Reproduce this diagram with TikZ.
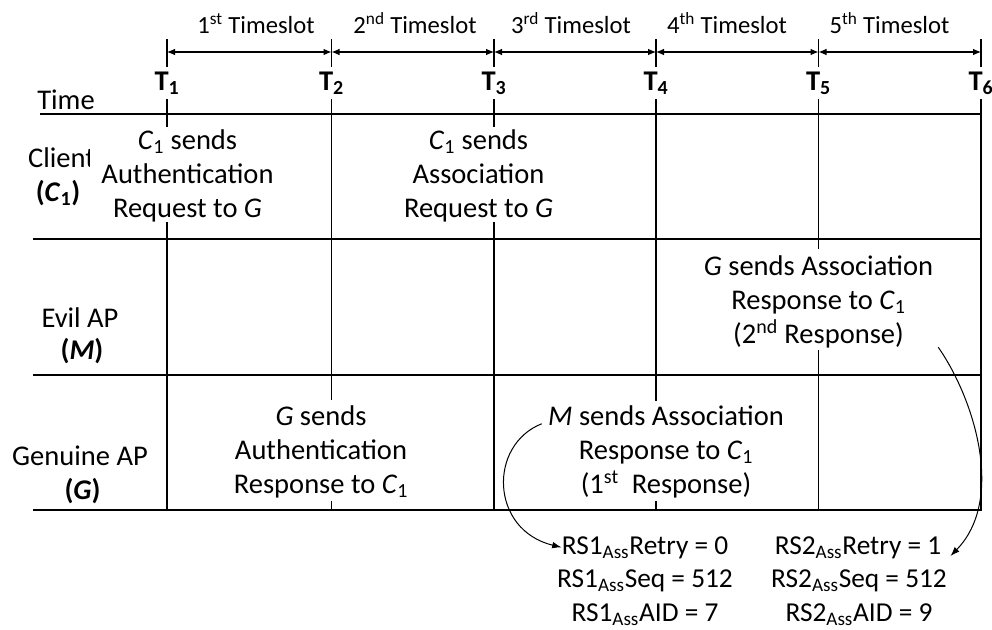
\documentclass[tikz,border=0pt]{standalone}
\usepackage{fontspec}
\setmainfont{Carlito}
\usetikzlibrary{arrows.meta,calc}

\begin{document}
\begin{tikzpicture}[x=0.75pt,y=-0.75pt,
  grid/.style={line width=1.5pt},
  tline/.style={line width=0.9pt},
  span/.style={line width=0.8pt,{Latex[length=6pt,width=5pt]}-{Latex[length=6pt,width=5pt]}},
  tlabel/.style={fill=white,inner xsep=1pt,inner ysep=0pt,minimum height=24pt,
    font=\fontsize{21.4}{25.5}\selectfont\bfseries},
  slot/.style={anchor=base,inner sep=0pt,font=\fontsize{18.5}{22}\selectfont},
  wbox/.style={fill=white,inner sep=0pt},
  msg/.style={align=center,inner sep=0pt,font=\fontsize{21.4}{25.5}\selectfont},
  rowlab/.style={anchor=base,inner sep=0pt,font=\fontsize{21.4}{25.5}\selectfont},
  res/.style={anchor=base,inner sep=0pt,font=\fontsize{20.5}{25}\selectfont},
  curve/.style={line width=0.75pt,-{Latex[length=7pt,width=5pt]}}
]
\useasboundingbox (0,0) rectangle (992,629);

% time instants
\foreach \i/\x in {1/167,2/331.5,3/494,4/656,5/818.5,6/981}{
  \coordinate (top\i) at (\x,39);
  \coordinate (arr\i) at (\x,52);
  \coordinate (bot\i) at (\x,510);
}

% row separators
\draw[grid] (40,114) -- (982,114);
\draw[grid] (33,239) -- (982,239);
\draw[grid] (33,375) -- (982,375);
\draw[grid] (33,510) -- (982,510);

% vertical time lines
\foreach \i in {1,...,6}{
  \draw[tline] (top\i) -- (bot\i);
}

% timeslot spans
\foreach \i [evaluate=\i as \j using int(\i+1)] in {1,...,5}{
  \draw[span] (arr\i) -- (arr\j);
}

% timeslot captions
\node[slot] (slot1) at (256,33) {1\textsuperscript{st} Timeslot};
\node[slot] (slot2) at (415,33) {2\textsuperscript{nd} Timeslot};
\node[slot] (slot3) at (571,33) {3\textsuperscript{rd} Timeslot};
\node[slot] (slot4) at (727,33) {4\textsuperscript{th} Timeslot};
\node[slot] (slot5) at (889.5,33) {5\textsuperscript{th} Timeslot};

% instant labels
\foreach \i/\x in {1/167,2/331.5,3/494,4/656,5/818.5,6/981}{
  \node[tlabel] (T\i) at (\x,83) {T\textsubscript{\i}};
}

% row labels
\node[rowlab] (time) at (66,109) {Time};
\node[rowlab] (client) at (61.5,167) {Client};
\node[rowlab] (clientid) at (58,201) {\textbf{(\textit{C}\textsubscript{1})}};
\node[rowlab] (evil) at (80,327) {Evil AP};
\node[rowlab] (evilid) at (82,359) {\textbf{(\textit{M})}};
\node[rowlab] (genuine) at (80,465) {Genuine AP};
\node[rowlab] (genuineid) at (82.5,499) {\textbf{(\textit{G})}};

% message boxes
\node[wbox,minimum width=146.25pt,minimum height=71.25pt] (box1) at (187.5,174.5) {};
\node[msg] (msg1) at ($(box1.center)+(0,1)$)
  {\textit{C}\textsubscript{1} sends\\Authentication\\Request to \textit{G}};

\node[wbox,minimum width=146.25pt,minimum height=71.25pt] (box2) at (478.5,174.5) {};
\node[msg] (msg2) at ($(box2.center)+(0,1)$)
  {\textit{C}\textsubscript{1} sends\\Association\\Request to \textit{G}};

\node[wbox,minimum width=179.25pt,minimum height=75.75pt] (box3) at (818.5,299.5) {};
\node[msg] (msg3) at ($(box3.center)+(0,2)$)
  {\textit{G} sends Association\\Response to \textit{C}\textsubscript{1}\\(2\textsuperscript{nd} Response)};

\node[wbox,minimum width=187.5pt,minimum height=75pt] (box4) at (666,451) {};
\node[msg] (msg4) at ($(box4.center)+(0,1)$)
  {\textit{M} sends Association\\Response to \textit{C}\textsubscript{1}\\(1\textsuperscript{st}\ \ Response)};

\node[wbox,minimum width=150pt,minimum height=75.75pt] (box5) at (321,450.5) {};
\node[msg] (msg5) at ($(box5.center)+(0,1)$)
  {\textit{G} sends\\Authentication\\Response to \textit{C}\textsubscript{1}};

% response fields
\node[res] (rs1a) at (645,554) {RS1\textsubscript{Ass}Retry = 0};
\node[res] (rs1b) at (645,587.5) {RS1\textsubscript{Ass}Seq = 512};
\node[res] (rs1c) at (645,621) {RS1\textsubscript{Ass}AID = 7};
\node[res] (rs2a) at (858,554) {RS2\textsubscript{Ass}Retry = 1};
\node[res] (rs2b) at (859,587.5) {RS2\textsubscript{Ass}Seq = 512};
\node[res] (rs2c) at (859,621) {RS2\textsubscript{Ass}AID = 9};

% which response carries which fields
\draw[curve] ($(box4.north west)+(1,23)$) .. controls (488,445) and (490,530) .. (rs1a.west);
\draw[curve] ($(box3.south east)+(0,-3)$) .. controls (975,400) and (1005,500) .. ($(rs2a.base east)+(9,2)$);

\end{tikzpicture}
\end{document}
